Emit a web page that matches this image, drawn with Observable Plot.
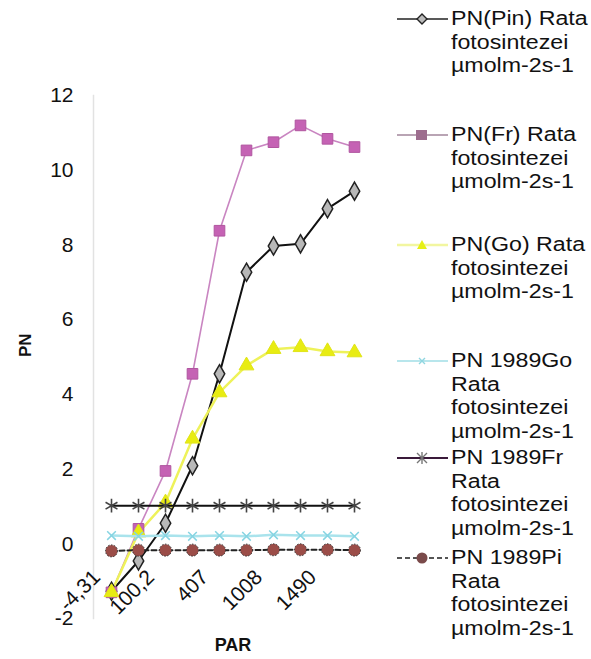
<!DOCTYPE html>
<html><head><meta charset="utf-8">
<script src="https://cdn.jsdelivr.net/npm/d3@7"></script>
<script src="https://cdn.jsdelivr.net/npm/@observablehq/plot@0.6"></script>
<style>
html,body{margin:0;padding:0;background:#fff;}
#wrap{position:relative;width:591px;height:659px;overflow:hidden;font-family:"Liberation Sans",Arial,sans-serif;}
#chart{position:absolute;left:0;top:0;}
.entry{position:absolute;left:396px;}
.entry svg{position:absolute;left:0;top:2px;}
.entry div{position:absolute;left:55px;white-space:nowrap;font-size:20px;line-height:23.5px;color:#111;transform:scaleX(1.16);transform-origin:0 50%;}
</style></head><body>
<div id="wrap"><div id="chart"></div><div id="legend"></div></div>
<script>
// ---- data ----
const parIndex = [0,1,2,3,4,5,6,7,8,9];
const parTickIndex = [0,2,4,6,8];
const parTickLabels = ["-4,31","100,2","407","1008","1490"];
const yTicks = [-2,0,2,4,6,8,10,12];
const seriesNames = ["PN(Pin)","PN(Fr)","PN(Go)","PN 1989Go","PN 1989Fr","PN 1989Pi"];
const pnPin    = [-1.27,-0.46,0.55,2.09,4.55,7.27,7.97,8.03,8.97,9.44];
const pnFr     = [-1.30,0.40,1.95,4.55,8.38,10.53,10.75,11.20,10.84,10.62];
const pnGo     = [-1.30,0.30,1.10,2.81,4.05,4.77,5.21,5.26,5.15,5.12];
const pn1989Go = [0.22,0.20,0.22,0.20,0.22,0.20,0.24,0.22,0.22,0.20];
const pn1989Fr = [1.02,1.02,1.02,1.02,1.02,1.02,1.02,1.02,1.02,1.02];
const pn1989Pi = [-0.19,-0.17,-0.17,-0.17,-0.17,-0.17,-0.16,-0.16,-0.16,-0.17];
const legendLines = [
  ["PN(Pin) Rata","fotosintezei","µmolm-2s-1"],
  ["PN(Fr) Rata","fotosintezei","µmolm-2s-1"],
  ["PN(Go) Rata","fotosintezei","µmolm-2s-1"],
  ["PN 1989Go","Rata","fotosintezei","µmolm-2s-1"],
  ["PN 1989Fr","Rata","fotosintezei","µmolm-2s-1"],
  ["PN 1989Pi","Rata","fotosintezei","µmolm-2s-1"]
];

const rows = v => parIndex.map((i,k) => ({i, v: v[k]}));
const dPin = rows(pnPin), dFr = rows(pnFr), dGo = rows(pnGo);
const d89Go = rows(pn1989Go), d89Fr = rows(pn1989Fr), d89Pi = rows(pn1989Pi);
const ticks = parTickIndex.map((i,k) => ({i, label: parTickLabels[k]}));

const chart = Plot.plot({
  width: 591, height: 659,
  marginLeft: 93, marginRight: 219, marginTop: 95, marginBottom: 41,
  style: {fontFamily: "'Liberation Sans', Arial, sans-serif", background: "transparent", color: "#111"},
  x: {type: "point", domain: parIndex, padding: 0.5, axis: null},
  y: {domain: [-2, 12], axis: null},
  marks: [
    Plot.axisY({ticks: yTicks, label: null, tickSize: 0, tickPadding: 20, fontSize: 21, tickFormat: d => String(d)}),
    Plot.frame({anchor: "left", stroke: "#e2e2e2", strokeWidth: 1.5}),
    // PN(Pin)
    Plot.line(dPin, {x: "i", y: "v", stroke: "#111", strokeWidth: 2}),
    // PN(Fr)
    Plot.line(dFr, {x: "i", y: "v", stroke: "#c985c1", strokeWidth: 1.6}),
    // PN(Go)
    Plot.line(dGo, {x: "i", y: "v", stroke: "#eef25a", strokeWidth: 2.5}),
    Plot.dot(dPin, {x: "i", y: "v", symbol: "diamond", r: 5.5, fill: "#b8b8b8", stroke: "#222", strokeWidth: 1.5}),
    Plot.dot(dFr, {x: "i", y: "v", symbol: "square", r: 6, fill: "#c562b4", stroke: "#b0559f", strokeWidth: 1}),
    Plot.dot(dGo, {x: "i", y: "v", symbol: "triangle", r: 5.5, fill: "#e8ec12", stroke: "#e0e418", strokeWidth: 1}),
    // 1989 series
    Plot.line(d89Go, {x: "i", y: "v", stroke: "#a9e3ec", strokeWidth: 2.5}),
    Plot.dot(d89Go, {x: "i", y: "v", symbol: "times", r: 4, stroke: "#86d4e2", strokeWidth: 1.5}),
    Plot.line(d89Fr, {x: "i", y: "v", stroke: "#111", strokeWidth: 2}),
    Plot.dot(d89Fr, {x: "i", y: "v", symbol: "asterisk", r: 6.5, stroke: "#444", strokeWidth: 1.6}),
    Plot.line(d89Pi, {x: "i", y: "v", stroke: "#222", strokeWidth: 2, strokeDasharray: "5,3"}),
    Plot.dot(d89Pi, {x: "i", y: "v", r: 6, fill: "#9b4d48", stroke: "#333", strokeWidth: 1, strokeDasharray: "1.5,1.5"}),
    // category tick labels
    Plot.text(ticks, {x: "i", text: "label", frameAnchor: "bottom", rotate: -45, textAnchor: "end", dx: -10, dy: -40, fontSize: 21, fill: "#111"}),
    // axis titles
    Plot.text(["PN"], {frameAnchor: "left", dx: -68, rotate: -90, fontSize: 17, fontWeight: "bold", fill: "#111"}),
    Plot.text(["PAR"], {frameAnchor: "bottom", dy: 32, fontSize: 18, fontWeight: "bold", fill: "#111"})
  ]
});
document.getElementById("chart").appendChild(chart);

// ---- legend ----
const legendTops = [9, 125, 235, 351, 448, 548];
const symbols = [
  `<line x1="1" y1="8" x2="52" y2="8" stroke="#222" stroke-width="1.6"/><path d="M26,3 L31,8 L26,13 L21,8Z" fill="#bbb" stroke="#222" stroke-width="1.4"/>`,
  `<line x1="1" y1="8" x2="52" y2="8" stroke="#b9a4b4" stroke-width="2"/><rect x="20" y="3" width="11" height="10" fill="#9d6d8e"/>`,
  `<line x1="1" y1="8" x2="52" y2="8" stroke="#f2f6a0" stroke-width="2.5"/><path d="M26,3 L31,12 L21,12Z" fill="#e6f016"/>`,
  `<line x1="1" y1="8" x2="52" y2="8" stroke="#b8e6ec" stroke-width="2"/><path d="M23,5 L29,11 M29,5 L23,11" stroke="#8fd6e0" stroke-width="1.4"/>`,
  `<line x1="1" y1="8" x2="52" y2="8" stroke="#3a1a3a" stroke-width="2"/><path d="M21,3 L31,13 M31,3 L21,13 M26,2 L26,14" stroke="#777" stroke-width="1.4"/>`,
  `<line x1="1" y1="8" x2="52" y2="8" stroke="#555" stroke-width="2" stroke-dasharray="5,3"/><circle cx="26" cy="8" r="5.5" fill="#7a4a4a"/>`
];
const legend = document.getElementById("legend");
legendLines.forEach((lines, k) => {
  const e = document.createElement("div");
  e.className = "entry";
  e.style.top = legendTops[k] + "px";
  let html = `<svg width="54" height="16" viewBox="0 0 54 16">${symbols[k]}</svg>`;
  lines.forEach((t, j) => { html += `<div style="top:${j * 23.5 - 2}px">${t}</div>`; });
  e.innerHTML = html;
  legend.appendChild(e);
});
</script>
</body></html>
